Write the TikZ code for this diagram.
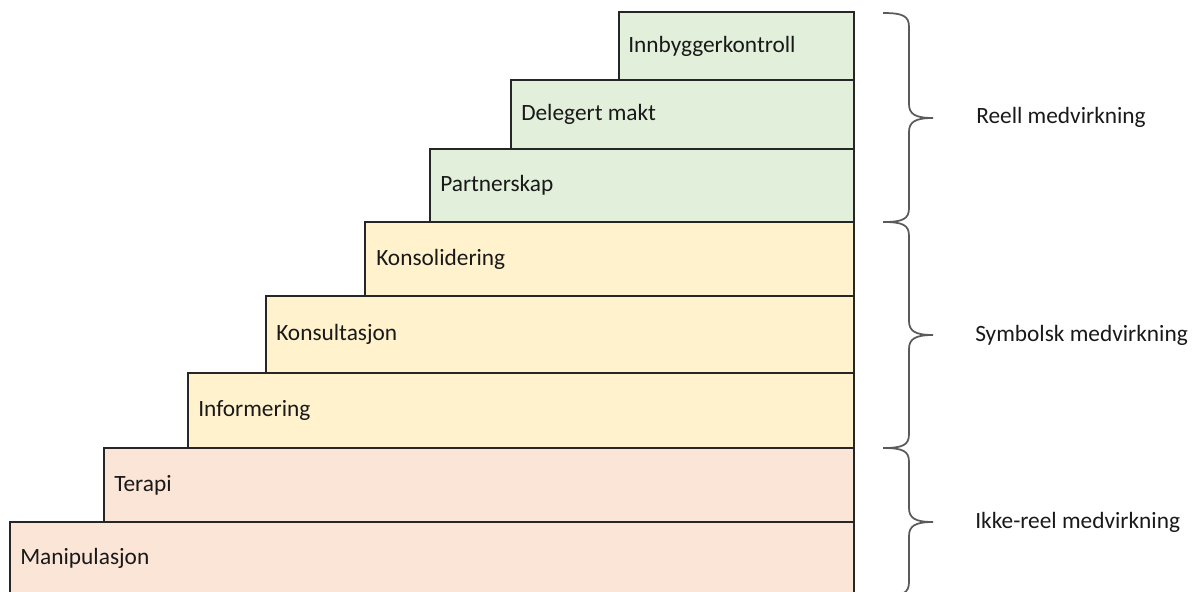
\documentclass[tikz,border=0pt]{standalone}
\usepackage{fontspec}
\setmainfont{Carlito}

\definecolor{reellgreen}{HTML}{E2EFDA}
\definecolor{symbolyellow}{HTML}{FFF2CC}
\definecolor{ikkepeach}{HTML}{FBE5D6}
\definecolor{bracegray}{HTML}{5A5A5A}

\tikzset{
  stairbox/.style={draw=black!85, line width=1pt},
  steplabel/.style={anchor=west, inner sep=0pt, font=\fontsize{17.5}{20}\selectfont, text=black!90},
  levelbrace/.style={draw=bracegray, line width=1.3pt},
  levellabel/.style={anchor=west, inner sep=0pt, font=\fontsize{17.5}{20}\selectfont, text=black!90}
}

\begin{document}
\begin{tikzpicture}[x=0.75pt, y=-0.75pt]
    \useasboundingbox (0,0) rectangle (1202,592);
    \clip (0,0) rectangle (1202,592);

    % steps, top to bottom
    \draw[stairbox, fill=reellgreen] (619,12) rectangle (854,80);
    \draw[stairbox, fill=reellgreen] (511,80) rectangle (854,149);
    \draw[stairbox, fill=reellgreen] (430,149) rectangle (854,222);
    \draw[stairbox, fill=symbolyellow] (365,222) rectangle (854,296);
    \draw[stairbox, fill=symbolyellow] (266,296) rectangle (854,373);
    \draw[stairbox, fill=symbolyellow] (188,373) rectangle (854,448);
    \draw[stairbox, fill=ikkepeach] (104,448) rectangle (854,522);
    \draw[stairbox, fill=ikkepeach, line width=1.6pt] (10,522) rectangle (854,610);

    \node[steplabel] (innbygger) at (628,46) {Innbyggerkontroll};
    \node[steplabel] (delegert) at (521,114) {Delegert makt};
    \node[steplabel] (partner) at (440,185) {Partnerskap};
    \node[steplabel] (konsolid) at (376,259) {Konsolidering};
    \node[steplabel] (konsult) at (276,334) {Konsultasjon};
    \node[steplabel] (informer) at (198,410) {Informering};
    \node[steplabel] (terapi) at (114,485) {Terapi};
    \node[steplabel] (manipul) at (20,558) {Manipulasjon};

    % braces: top / tip / bottom
    \foreach \ya/\ym/\yb in {13/118/222, 222/335/448, 448/522/596}
      \draw[levelbrace] (883,\ya) .. controls (903,\ya) and (909,\ya+3) .. (909,\ya+14)
        -- (909,\ym-14) .. controls (909,\ym-4) and (915,\ym) .. (933,\ym)
        .. controls (915,\ym) and (909,\ym+4) .. (909,\ym+14)
        -- (909,\yb-14) .. controls (909,\yb-3) and (903,\yb) .. (883,\yb);

    \node[levellabel] (reell) at (976,117) {Reell medvirkning};
    \node[levellabel] (symbolsk) at (975,335) {Symbolsk medvirkning};
    \node[levellabel] (ikkereel) at (975,522) {Ikke-reel medvirkning};
\end{tikzpicture}
\end{document}
